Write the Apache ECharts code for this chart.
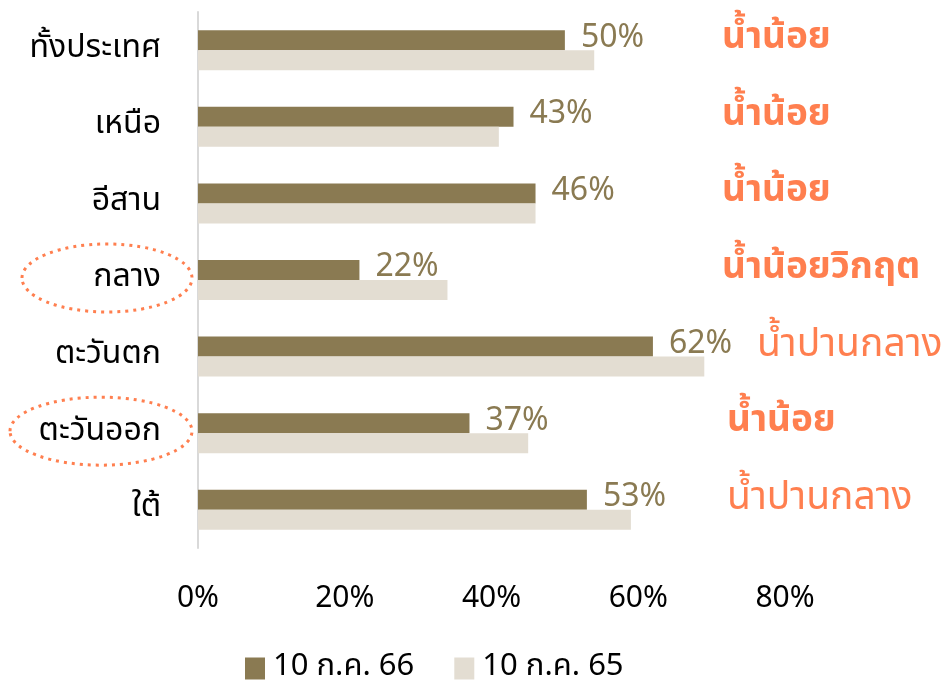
<!DOCTYPE html>
<html>
<head>
<meta charset="utf-8">
<script src="https://cdn.jsdelivr.net/npm/echarts@6/dist/echarts.min.js"></script>
<style>
  html, body { margin: 0; padding: 0; background: #fff; }
  #chart { width: 948px; height: 680px; }
</style>
</head>
<body>
<div id="chart"></div>
<script>
const regions = ['ทั้งประเทศ', 'เหนือ', 'อีสาน', 'กลาง', 'ตะวันตก', 'ตะวันออก', 'ใต้'];
const jul66 = [50, 43, 46, 22, 62, 37, 53];
const jul65 = [54, 41, 46, 34, 69, 45, 59];
const status = ['น้ำน้อย', 'น้ำน้อย', 'น้ำน้อย', 'น้ำน้อยวิกฤต', 'น้ำปานกลาง', 'น้ำน้อย', 'น้ำปานกลาง'];
const circled = ['กลาง', 'ตะวันออก'];
const seriesNames = ['10 ก.ค. 66', '10 ก.ค. 65'];

const font = "'Noto Sans Thai', 'Noto Sans', 'DejaVu Sans', sans-serif";
const dark = '#8A7A52';
const light = '#E3DDD2';
const orange = '#FF7F4F';

const chart = echarts.init(document.getElementById('chart'));

chart.setOption({
  animation: false,
  textStyle: { fontFamily: font },
  grid: { left: 198, right: 163, top: 12, bottom: 132 },
  legend: {
    bottom: -9,
    left: 240,
    icon: 'rect',
    itemWidth: 20,
    itemHeight: 22,
    itemGap: 40,
    textStyle: { fontSize: 31, color: '#000', fontFamily: font, padding: [0, 0, 0, 3] },
    data: seriesNames
  },
  xAxis: {
    type: 'value',
    min: 0,
    max: 80,
    interval: 20,
    axisLine: { show: false },
    axisTick: { show: false },
    splitLine: { show: false },
    axisLabel: {
      formatter: '{value}%',
      fontSize: 30,
      color: '#000',
      margin: 38
    }
  },
  yAxis: {
    type: 'category',
    inverse: true,
    data: regions,
    axisLine: { show: true, lineStyle: { color: '#D9D9D9', width: 2 } },
    axisTick: { show: false },
    axisLabel: { fontSize: 32, color: '#000', margin: 37 }
  },
  series: [
    {
      name: seriesNames[0],
      type: 'bar',
      data: jul66,
      barWidth: 20,
      barGap: '0%',
      itemStyle: { color: dark },
      label: {
        show: true,
        position: 'right',
        distance: 16,
        formatter: '{c}%',
        fontSize: 32,
        color: dark
      }
    },
    {
      name: seriesNames[1],
      type: 'bar',
      data: jul65,
      barWidth: 20,
      itemStyle: { color: light }
    }
  ]
});

// status text to the right of each row, plus dotted rings around highlighted regions
const graphics = [];
regions.forEach(function (r, i) {
  const center = chart.convertToPixel({ yAxisIndex: 0 }, r);
  const barEnd = chart.convertToPixel({ xAxisIndex: 0 }, jul66[i]);
  const bold = status[i] !== 'น้ำปานกลาง';
  graphics.push({
    type: 'text',
    left: Math.max(i >= 5 ? 727 : 722, barEnd + 104),
    top: center - 28,
    style: {
      text: status[i],
      fill: orange,
      font: (bold ? 'bold 37px ' : '39px ') + font
    }
  });
  if (circled.indexOf(r) >= 0) {
    const rx = r === 'กลาง' ? 85 : 91;
    graphics.push({
      type: 'ellipse',
      shape: { cx: 194 - rx - 2, cy: center - 2, rx: rx, ry: 34 },
      style: { fill: null, stroke: orange, lineWidth: 3, lineDash: [3, 5] }
    });
  }
});
chart.setOption({ graphic: graphics });
</script>
</body>
</html>
